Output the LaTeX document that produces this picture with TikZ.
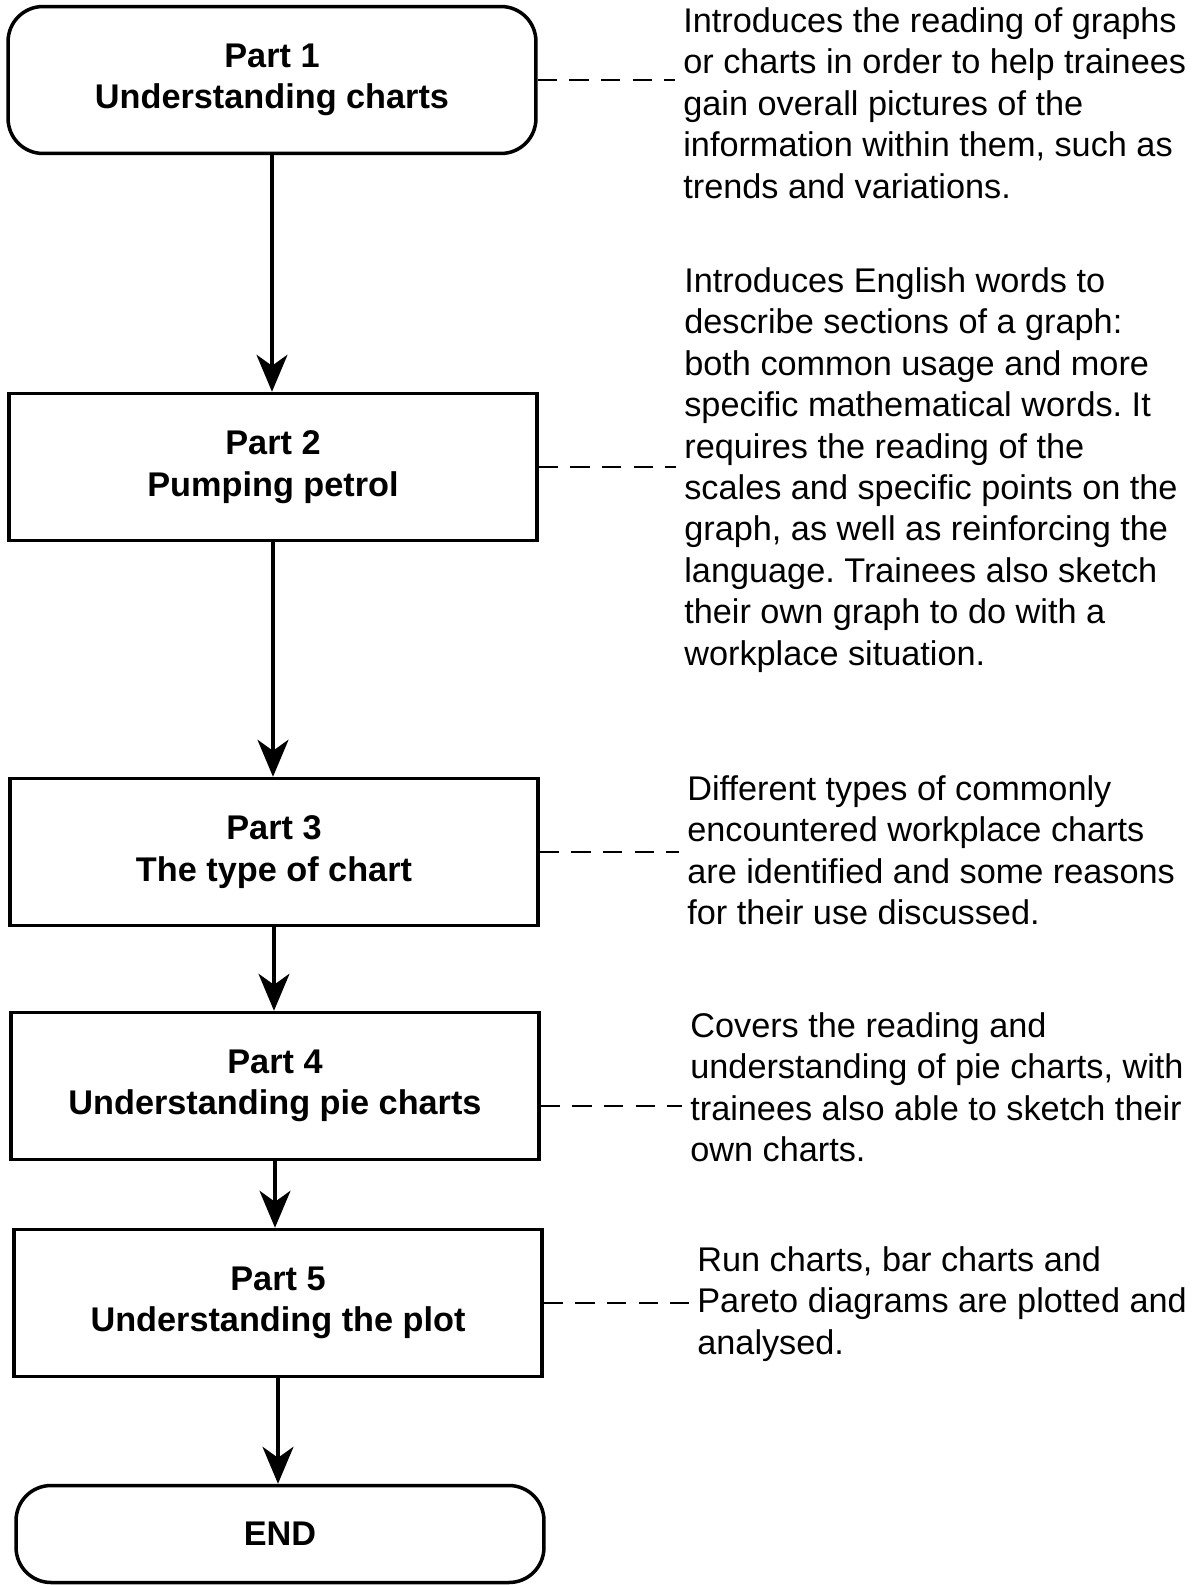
\documentclass[tikz,border=0pt]{standalone}
\usepackage{fontspec}
\setmainfont{Liberation Sans}
\usetikzlibrary{arrows.meta, positioning}
\frenchspacing

\tikzstyle{partbox} = [draw, line width=2pt, minimum width=10.56cm, minimum height=2.94cm,
                       align=center, font=\fontsize{19.5}{23.6}\selectfont\bfseries]
\tikzstyle{termbox} = [partbox, rounded corners=0.7cm]
\tikzstyle{note}    = [anchor=north west, inner sep=0pt, align=left,
                       font=\fontsize{19.5}{23.6}\selectfont]
\tikzstyle{arrow}   = [line width=1.9pt, -{Stealth[length=0.74cm, width=0.62cm, inset=0.22cm]}]
\tikzstyle{link}    = [line width=1.4pt, dash pattern=on 11pt off 7pt, shorten >=0.16cm]

\begin{document}
\begin{tikzpicture}[x=0.02cm, y=-0.02cm]
  \useasboundingbox (0,0) rectangle (1198,1585);

  % flow of parts
  \node[termbox] (p1) at (272,80) {Part 1\\Understanding charts};
  \node[partbox] (p2) at (273,467) {Part 2\\Pumping petrol};
  \node[partbox] (p3) at (274,852) {Part 3\\The type of chart};
  \node[partbox] (p4) at (275,1086) {Part 4\\Understanding pie charts};
  \node[partbox] (p5) at (278,1303) {Part 5\\Understanding the plot};
  \node[termbox, minimum height=1.94cm] (pe) at (280,1534) {END};

  \draw[arrow] (p1.south) -- (p1.south |- p2.north);
  \draw[arrow] (p2.south) -- (p2.south |- p3.north);
  \draw[arrow] (p3.south) -- (p3.south |- p4.north);
  \draw[arrow] (p4.south) -- (p4.south |- p5.north);
  \draw[arrow] (p5.south) -- (p5.south |- pe.north);

  % notes on the right
  \node[note] (d1) at (683,7) {Introduces the reading of graphs\\
    or charts in order to help trainees\\
    gain overall pictures of the\\
    information within them, such as\\
    trends and variations.};
  \node[note] (d2) at (684,267) {Introduces English words to\\
    describe sections of a graph:\\
    both common usage and more\\
    specific mathematical words. It\\
    requires the reading of the\\
    scales and specific points on the\\
    graph, as well as reinforcing the\\
    language. Trainees also sketch\\
    their own graph to do with a\\
    workplace situation.};
  \node[note] (d3) at (687,775) {Different types of commonly\\
    encountered workplace charts\\
    are identified and some reasons\\
    for their use discussed.};
  \node[note] (d4) at (690,1012) {Covers the reading and\\
    understanding of pie charts, with\\
    trainees also able to sketch their\\
    own charts.};
  \node[note] (d5) at (697,1246) {Run charts, bar charts and\\
    Pareto diagrams are plotted and\\
    analysed.};

  \draw[link] (p1.east) -- (p1.east -| d1.west);
  \draw[link] (p2.east) -- (p2.east -| d2.west);
  \draw[link] (p3.east) -- (p3.east -| d3.west);
  \draw[link] ([yshift=-0.4cm]p4.east) -- ([yshift=-0.4cm]p4.east -| d4.west);
  \draw[link] (p5.east) -- (p5.east -| d5.west);
\end{tikzpicture}
\end{document}
